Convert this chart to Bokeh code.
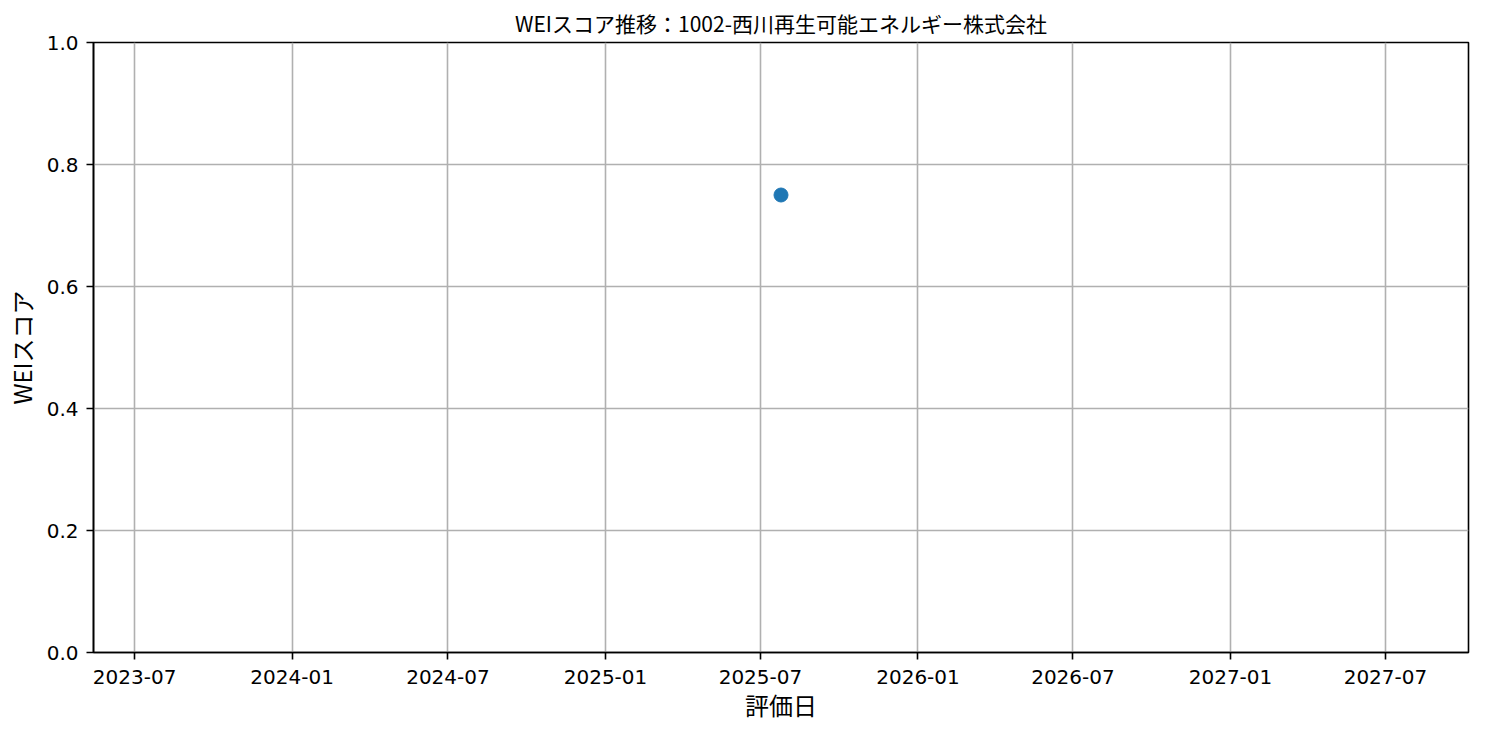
from datetime import datetime, timedelta
from bokeh.plotting import figure
from bokeh.models import Range1d, FixedTicker, DatetimeTickFormatter, NumeralTickFormatter, ColumnDataSource
from bokeh.embed import file_html
from bokeh.resources import INLINE

# --- data ---
eval_dates = [datetime(2025, 7, 25)]
wei_scores = [0.75]
x_tick_labels = ["2023-07", "2024-01", "2024-07", "2025-01", "2025-07",
                 "2026-01", "2026-07", "2027-01", "2027-07"]
y_ticks = [0.0, 0.2, 0.4, 0.6, 0.8, 1.0]
title_text = "WEIスコア推移：1002-西川再生可能エネルギー株式会社"
x_label = "評価日"
y_label = "WEIスコア"

FONT = "Noto Sans CJK JP"
TICK_FONT = "DejaVu Sans"

def to_ms(d):
    return (d - datetime(1970, 1, 1)).total_seconds() * 1000.0

x_tick_ms = [to_ms(datetime.strptime(s, "%Y-%m")) for s in x_tick_labels]
center = eval_dates[0]
x_start = center - timedelta(days=803)
x_end = center + timedelta(days=803)

p = figure(
    frame_width=1375, frame_height=610,
    x_axis_type="datetime",
    x_range=Range1d(x_start, x_end),
    y_range=Range1d(0, 1),
    output_backend="svg",
    toolbar_location=None,
    min_border_left=86, min_border_right=8,
    min_border_top=35, min_border_bottom=70,
    background_fill_color="white", border_fill_color="white",
)

p.title.text = title_text
p.title.align = "center"
p.title.text_font = FONT
p.title.text_font_size = "21px"
p.title.text_font_style = "normal"
p.title.text_color = "black"

p.outline_line_color = "black"
p.outline_line_width = 1.6
p.outline_line_alpha = 1.0

p.xaxis.ticker = FixedTicker(ticks=x_tick_ms)
fmt = "%Y-%m"
p.xaxis.formatter = DatetimeTickFormatter(
    microseconds=fmt, milliseconds=fmt, seconds=fmt, minsec=fmt, minutes=fmt,
    hourmin=fmt, hours=fmt, days=fmt, months=fmt, years=fmt)
p.yaxis.ticker = FixedTicker(ticks=y_ticks)
p.yaxis.formatter = NumeralTickFormatter(format="0.0")

p.xaxis.axis_label = x_label
p.yaxis.axis_label = y_label

for ax in (p.xaxis, p.yaxis):
    ax.axis_label_text_font = FONT
    ax.axis_label_text_font_size = "24px"
    ax.axis_label_text_font_style = "normal"
    ax.axis_label_text_color = "black"
    ax.major_label_text_font = TICK_FONT
    ax.major_label_text_font_size = "20px"
    ax.major_label_text_color = "black"
    ax.axis_line_color = "black"
    ax.axis_line_width = 1.6
    ax.major_tick_line_color = "black"
    ax.major_tick_line_width = 1.6
    ax.major_tick_out = 7
    ax.major_tick_in = 0
    ax.minor_tick_line_color = None

p.xaxis.major_label_standoff = 10
p.yaxis.major_label_standoff = 8
p.xaxis.axis_label_standoff = 0
p.yaxis.axis_label_standoff = 5

p.grid.grid_line_color = "#b0b0b0"
p.grid.grid_line_width = 1.6

src = ColumnDataSource(data=dict(x=eval_dates, y=wei_scores))
p.scatter(x="x", y="y", source=src, size=14, fill_color="#1f77b4",
          line_color="#1f77b4")

open("out.html", "w").write(file_html(p, INLINE))
